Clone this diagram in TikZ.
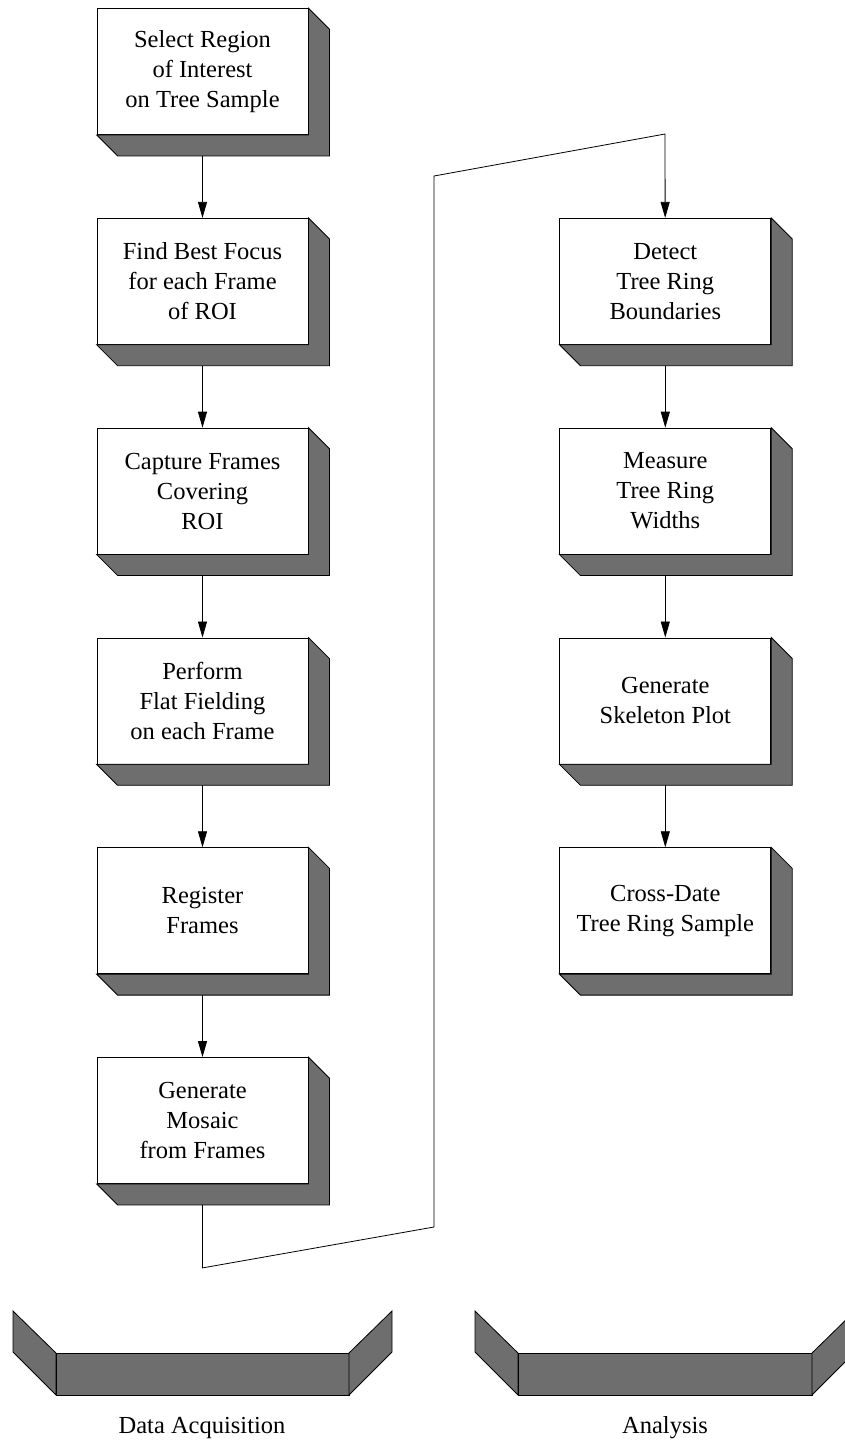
\documentclass[tikz,border=0pt]{standalone}
\usepackage{fontspec}
\setmainfont{Liberation Serif}
\usepackage{xcolor}
\usepackage{tikz}
\usetikzlibrary{arrows.meta, positioning, calc}

\definecolor{boxgray}{RGB}{110,110,110}

% slanted drop shadow behind a step box
\newcommand{\boxshade}[1]{%
  \filldraw[fill=boxgray] (#1.north east) -- ++(21,21)
    -- ($(#1.south east)+(21,21)$) -- ($(#1.south west)+(21,21)$)
    -- (#1.south west) -- (#1.south east) -- cycle;}

% group bar with two folded flaps
\newcommand{\groupbar}[2]{%
  \filldraw[fill=boxgray] (#1-43,1311) -- (#1,1353) -- (#1,1395) -- (#1-43,1352) -- cycle;
  \filldraw[fill=boxgray] (#1,1353) rectangle (#2,1395);
  \filldraw[fill=boxgray] (#2,1353) -- (#2+43,1311) -- (#2+43,1352) -- (#2,1395) -- cycle;}

\begin{document}
\begin{tikzpicture}[
  x=1pt, y=-1pt,
  node distance=83pt,
  >={Triangle[length=16pt,width=9pt]},
  line width=0.8pt,
  font=\fontsize{24.5}{30}\selectfont,
  stepbox/.style={
    rectangle, draw, fill=white, align=center,
    inner sep=2pt,
    minimum width=211pt,
    minimum height=126pt
  },
  grouplabel/.style={inner sep=1pt}
]
\clip (0,0) rectangle (845,1446);

% --- Data acquisition column ---
\node[stepbox] (S1) at (202.5,71.5) {Select Region\\ of Interest\\ on Tree Sample};
\node[stepbox, below=of S1] (S2) {Find Best Focus\\ for each Frame\\ of ROI\hspace{22pt}};
\node[stepbox, below=of S2] (S3) {Capture Frames\\ Covering\\ ROI};
\node[stepbox, below=of S3] (S4) {Perform\\ Flat Fielding\\ on each Frame};
\node[stepbox, below=of S4] (S5) {Register\\ Frames};
\node[stepbox, below=of S5] (S6) {Generate\\ Mosaic\\ from Frames};

% --- Analysis column ---
\node[stepbox, right=251pt of S2] (R1) {Detect\\ Tree Ring\\ Boundaries};
\node[stepbox, below=of R1] (R2) {Measure\\ Tree Ring\\ Widths};
\node[stepbox, below=of R2] (R3) {Generate\\ Skeleton Plot};
\node[stepbox, below=of R3] (R4) {Cross-Date\\ Tree Ring Sample};

\foreach \n in {S1,S2,S3,S4,S5,S6,R1,R2,R3,R4}
  \boxshade{\n};

% --- Arrows ---
\draw[->] ([yshift=-21pt]S1.south) -- (S2);
\draw[->] ([yshift=-21pt]S2.south) -- (S3);
\draw[->] ([yshift=-21pt]S3.south) -- (S4);
\draw[->] ([yshift=-21pt]S4.south) -- (S5);
\draw[->] ([yshift=-21pt]S5.south) -- (S6);

\coordinate (BENDA) at (434,1227);
\coordinate (BENDB) at (434,176);
\coordinate (TOP) at (665,134);
\draw[->] ([yshift=-21pt]S6.south) -- ++(0,63) -- (BENDA) -- (BENDB) -- (TOP) -- (R1);

\draw[->] ([yshift=-21pt]R1.south) -- (R2);
\draw[->] ([yshift=-21pt]R2.south) -- (R3);
\draw[->] ([yshift=-21pt]R3.south) -- (R4);

% --- Groups ---
\groupbar{56}{349}
\groupbar{518}{812}
\node[grouplabel] (ACQ) at (202,1428) {Data Acquisition};
\node[grouplabel] (ANA) at (665,1428) {Analysis};

\end{tikzpicture}
\end{document}
